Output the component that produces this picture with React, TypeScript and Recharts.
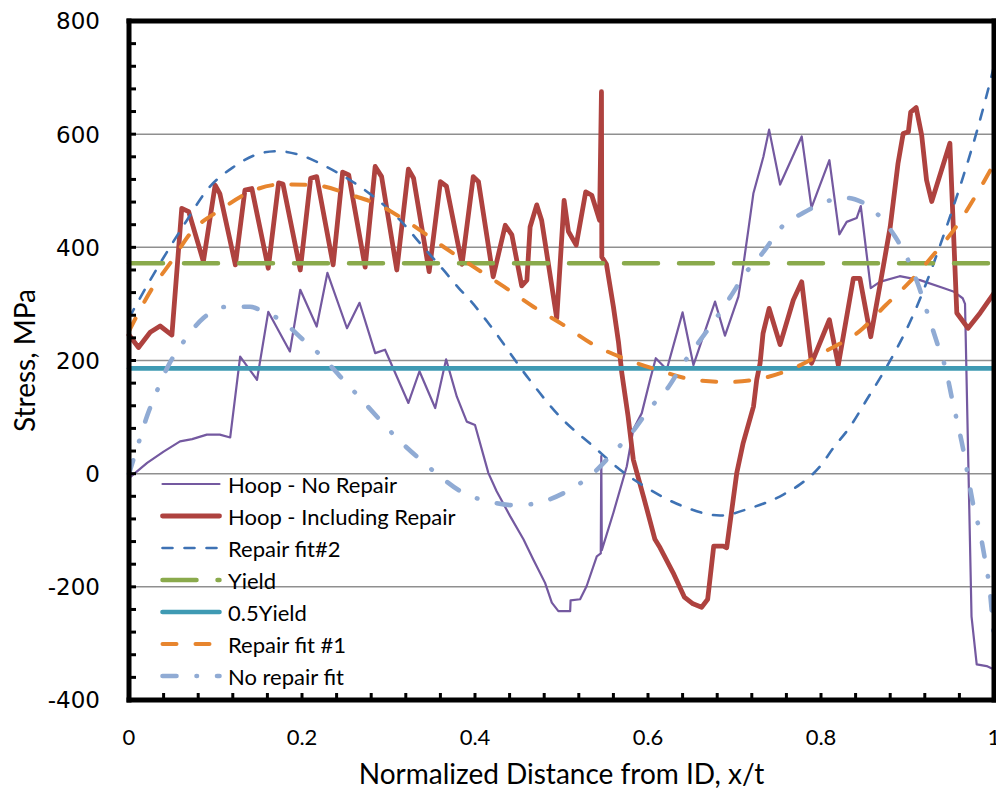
import React from 'react';
import { LineChart, Line, XAxis, YAxis, ReferenceLine, Legend } from 'recharts';

// Hoop stress, no repair
const noRepairX = [0, 0.021, 0.04, 0.059, 0.073, 0.09, 0.105, 0.117, 0.1285, 0.148, 0.161, 0.186, 0.198, 0.217, 0.2294, 0.252, 0.2665, 0.2846, 0.296, 0.323, 0.3358, 0.354, 0.3666, 0.379, 0.3905, 0.4, 0.4155, 0.425, 0.4406, 0.456, 0.4675, 0.481, 0.4888, 0.4964, 0.51, 0.5105, 0.5215, 0.529, 0.5408, 0.5454, 0.546, 0.5466, 0.56, 0.5755, 0.583, 0.5928, 0.6024, 0.609, 0.6217, 0.64, 0.6525, 0.6775, 0.689, 0.7045, 0.71, 0.716, 0.7218, 0.7334, 0.74, 0.7527, 0.7777, 0.789, 0.8097, 0.8212, 0.8297, 0.8413, 0.846, 0.8575, 0.868, 0.891, 0.9145, 0.9414, 0.953, 0.9638, 0.9665, 0.974, 0.98, 0.9915, 1];
const noRepairY = [-8, 19, 39, 57, 61, 69, 69, 64, 207, 166, 286, 216, 325, 260, 355, 257, 302, 213, 219, 125, 181, 116, 202, 136, 92, 86, 1, -31, -75, -116, -152, -193, -228, -243, -243, -224, -222, -199, -146, -141, 31, -135, -69, 13, 78, 107, 166, 204, 184, 285, 192, 304, 244, 313, 366, 431, 495, 560, 608, 511, 596, 470, 554, 423, 445, 452, 473, 328, 339, 349, 342, 328, 322, 310, 300, -252, -337, -340, -346];

// Hoop stress, including repair
const repairX = [0, 0.011, 0.0245, 0.036, 0.0496, 0.061, 0.069, 0.086, 0.0996, 0.105, 0.123, 0.134, 0.142, 0.161, 0.173, 0.178, 0.198, 0.21, 0.217, 0.236, 0.247, 0.254, 0.273, 0.2846, 0.292, 0.3096, 0.323, 0.329, 0.347, 0.36, 0.367, 0.385, 0.398, 0.404, 0.421, 0.435, 0.4426, 0.454, 0.46, 0.4637, 0.4714, 0.477, 0.4945, 0.503, 0.508, 0.517, 0.528, 0.535, 0.544, 0.5462, 0.5466, 0.552, 0.56, 0.566, 0.5697, 0.577, 0.583, 0.5947, 0.608, 0.614, 0.63, 0.642, 0.652, 0.662, 0.669, 0.676, 0.687, 0.691, 0.7026, 0.71, 0.722, 0.7257, 0.7296, 0.733, 0.74, 0.7527, 0.768, 0.7777, 0.789, 0.8097, 0.82, 0.8374, 0.845, 0.8575, 0.872, 0.88, 0.889, 0.895, 0.901, 0.9037, 0.91, 0.9164, 0.922, 0.928, 0.949, 0.957, 0.97, 0.984, 1];
const repairY = [245, 223, 250, 261, 245, 469, 463, 375, 510, 495, 369, 501, 504, 363, 514, 512, 360, 522, 525, 369, 533, 528, 365, 543, 525, 360, 538, 522, 357, 516, 508, 370, 525, 516, 348, 439, 422, 332, 342, 436, 475, 448, 275, 483, 428, 404, 498, 492, 448, 675, 383, 370, 295, 231, 178, 101, 25, -40, -116, -131, -178, -218, -230, -236, -222, -128, -128, -131, 1, 54, 119, 166, 195, 248, 292, 228, 307, 339, 195, 272, 192, 345, 345, 242, 366, 436, 548, 601, 604, 639, 647, 598, 519, 481, 584, 284, 257, 284, 319];

// Repair fit #2
const fit2X = [0, 0.0245, 0.0476, 0.067, 0.09, 0.1208, 0.1516, 0.171, 0.198, 0.2287, 0.2595, 0.279, 0.3133, 0.34, 0.3635, 0.383, 0.394, 0.4175, 0.46, 0.498, 0.537, 0.5677, 0.602, 0.641, 0.6833, 0.718, 0.7565, 0.7757, 0.799, 0.814, 0.8336, 0.853, 0.876, 0.89, 0.905, 0.92, 0.935, 0.95, 0.965, 0.98, 0.99, 1];
const fit2Y = [275, 342, 401, 448, 501, 542, 566, 570, 563, 542, 515, 494, 448, 401, 360, 325, 307, 262, 172, 101, 48, 7, -28, -58, -74, -61, -37, -19, 13, 45, 83, 131, 189, 228, 275, 330, 392, 458, 528, 604, 660, 720];

// Yield and half yield
const yieldX = [0, 1];
const yieldY = [372, 372];
const halfYieldY = [186, 186];

// Repair fit #1
const fit1X = [0, 0.0283, 0.0476, 0.0727, 0.1054, 0.14, 0.1748, 0.2132, 0.2595, 0.2846, 0.325, 0.3635, 0.398, 0.433, 0.4675, 0.502, 0.537, 0.5715, 0.61, 0.6525, 0.691, 0.7334, 0.772, 0.8074, 0.844, 0.875, 0.902, 0.929, 0.956, 0.978, 1];
const fit1Y = [252, 331, 372, 428, 466, 498, 511, 510, 491, 478, 442, 401, 366, 331, 295, 263, 228, 204, 184, 166, 162, 169, 189, 218, 251, 298, 338, 385, 436, 489, 548];

// No repair fit
const fitNoX = [0, 0.011, 0.0207, 0.032, 0.0438, 0.063, 0.086, 0.113, 0.14, 0.1555, 0.1748, 0.2017, 0.223, 0.244, 0.267, 0.2865, 0.3096, 0.3366, 0.3597, 0.3866, 0.4155, 0.448, 0.479, 0.51, 0.537, 0.556, 0.581, 0.6024, 0.6217, 0.641, 0.658, 0.6775, 0.695, 0.714, 0.733, 0.7546, 0.7796, 0.8066, 0.825, 0.839, 0.8644, 0.8856, 0.899, 0.9137, 0.922, 0.9338, 0.9453, 0.951, 0.957, 0.9645, 0.97, 0.976, 0.984, 0.9896, 0.9954, 1];
const fitNoY = [0, 54, 101, 145, 186, 233, 275, 295, 295, 286, 272, 236, 207, 172, 134, 101, 63, 25, -5, -34, -49, -56, -49, -28, 1, 31, 72, 116, 149, 195, 231, 272, 312, 357, 391, 436, 461, 481, 488, 485, 460, 419, 383, 328, 289, 233, 178, 136, 95, 42, -5, -55, -105, -152, -210, -292];

// axes
const X_TICKS = [0, 0.04, 0.08, 0.12, 0.16, 0.2, 0.24, 0.28, 0.32, 0.36, 0.4, 0.44, 0.48, 0.52, 0.56, 0.6, 0.64, 0.68, 0.72, 0.76, 0.8, 0.84, 0.88, 0.92, 0.96, 1];
const X_LABEL_VALUES = [0, 0.2, 0.4, 0.6, 0.8, 1];
const X_LABELS = ['0', '0.2', '0.4', '0.6', '0.8', '1'];
const Y_TICKS = [-400, -360, -320, -280, -240, -200, -160, -120, -80, -40, 0, 40, 80, 120, 160, 200, 240, 280, 320, 360, 400, 440, 480, 520, 560, 600, 640, 680, 720, 760, 800];
const Y_LABEL_VALUES = [-400, -200, 0, 200, 400, 600, 800];
const Y_LABELS = ['-400', '-200', '0', '200', '400', '600', '800'];
const GRID_VALUES = [-200, 0, 200, 400, 600];

const zip = (xs: number[], ys: number[]) => xs.map((x, i) => ({ x, y: ys[i] }));

const SERIES = [
  { name: 'Hoop - No Repair', data: zip(noRepairX, noRepairY), color: '#7459a0', width: 2.2, dash: undefined, type: 'linear' },
  { name: 'Hoop - Including Repair', data: zip(repairX, repairY), color: '#ae423f', width: 4.8, dash: undefined, type: 'linear' },
  { name: 'Repair fit#2', data: zip(fit2X, fit2Y), color: '#3e72b4', width: 2.6, dash: '10 12', type: 'monotone' },
  { name: 'Yield', data: zip(yieldX, yieldY), color: '#8aaa4c', width: 4.5, dash: '34 21', type: 'linear' },
  { name: '0.5Yield', data: zip(yieldX, halfYieldY), color: '#3f9ab3', width: 4.6, dash: undefined, type: 'linear' },
  { name: 'Repair fit #1', data: zip(fit1X, fit1Y), color: '#e7852e', width: 4, dash: '14 19', type: 'monotone' },
  { name: 'No repair fit', data: zip(fitNoX, fitNoY), color: '#90abd4', width: 4.6, dash: '14 20 0.5 20', type: 'monotone' },
];

const TEXT_FONT = 'Lato, "Open Sans", sans-serif';

const XTick = (props: any) => {
  const { x, y, payload } = props;
  const i = X_LABEL_VALUES.findIndex((v) => Math.abs(v - payload.value) < 1e-6);
  if (i < 0) return <g />;
  return (
    <text x={x} y={y + 45} textAnchor="middle" fontFamily={TEXT_FONT} fontSize={22} fill="#000">
      {X_LABELS[i]}
    </text>
  );
};

const YTick = (props: any) => {
  const { x, y, payload } = props;
  const i = Y_LABEL_VALUES.findIndex((v) => v === payload.value);
  if (i < 0) return <g />;
  return (
    <text x={x - 29} y={y + 8.4} textAnchor="end" fontFamily='"DejaVu Sans", Verdana, sans-serif' fontSize={23} fill="#000">
      {Y_LABELS[i]}
    </text>
  );
};

const XTitle = (props: any) => {
  const { viewBox } = props;
  return (
    <text x={viewBox.x + viewBox.width / 2} y={viewBox.y + 84} textAnchor="middle" fontFamily={TEXT_FONT} fontSize={28} fill="#000">
      Normalized Distance from ID, x/t
    </text>
  );
};

const YTitle = (props: any) => {
  const { viewBox } = props;
  const cx = 27;
  const cy = viewBox.y + viewBox.height / 2;
  return (
    <text x={cx} y={cy} transform={`rotate(-90, ${cx}, ${cy})`} textAnchor="middle" fontFamily={TEXT_FONT} fontSize={28} fill="#000">
      Stress, MPa
    </text>
  );
};

const renderLegend = () => (
  <div style={{ fontFamily: TEXT_FONT, fontSize: 22, color: '#000' }}>
    {SERIES.map((s) => (
      <div key={s.name} style={{ display: 'flex', alignItems: 'center', height: 32 }}>
        <svg width={62} height={32} style={{ display: 'block' }}>
          <line x1={2.5} y1={16} x2={59.5} y2={16} stroke={s.color} strokeWidth={s.width}
            strokeDasharray={s.dash} strokeLinecap="round" />
        </svg>
        <span style={{ marginLeft: 6, whiteSpace: 'nowrap' }}>{s.name}</span>
      </div>
    ))}
  </div>
);

export default function App() {
  return (
    <div style={{ width: 996, height: 789 }}>
      <LineChart width={996} height={789} margin={{ top: 13, right: 10, bottom: 7, left: 11 }}>
        <XAxis
          type="number"
          dataKey="x"
          domain={[0, 1]}
          ticks={X_TICKS}
          interval={0}
          height={90}
          axisLine={false}
          tickLine={{ stroke: '#000', strokeWidth: 3 }}
          tickSize={-7}
          tickMargin={7}
          tick={<XTick />}
          label={<XTitle />}
        />
        <YAxis
          type="number"
          domain={[-400, 800]}
          ticks={Y_TICKS}
          interval={0}
          width={110}
          axisLine={false}
          tickLine={{ stroke: '#000', strokeWidth: 3 }}
          tickSize={-7}
          tickMargin={7}
          tick={<YTick />}
          label={<YTitle />}
        />
        {GRID_VALUES.map((v) => (
          <ReferenceLine key={v} y={v} stroke="#8f8f8f" strokeWidth={1.5} />
        ))}
        {SERIES.map((s) => (
          <Line
            key={s.name}
            data={s.data}
            dataKey="y"
            name={s.name}
            type={s.type as any}
            stroke={s.color}
            strokeWidth={s.width}
            strokeDasharray={s.dash}
            strokeLinecap="round"
            strokeLinejoin="round"
            dot={false}
            activeDot={false}
            isAnimationActive={false}
          />
        ))}
        <ReferenceLine x={0} stroke="#000" strokeWidth={5} strokeLinecap="square" />
        <ReferenceLine x={1} stroke="#000" strokeWidth={5} strokeLinecap="square" />
        <ReferenceLine y={-400} stroke="#000" strokeWidth={5} strokeLinecap="square" />
        <ReferenceLine y={800} stroke="#000" strokeWidth={5} strokeLinecap="square" />
        <Legend
          content={renderLegend}
          align="center"
          verticalAlign="middle"
          wrapperStyle={{ position: 'absolute', left: 152, top: 460, width: 'auto', height: 'auto' }}
        />
      </LineChart>
    </div>
  );
}
